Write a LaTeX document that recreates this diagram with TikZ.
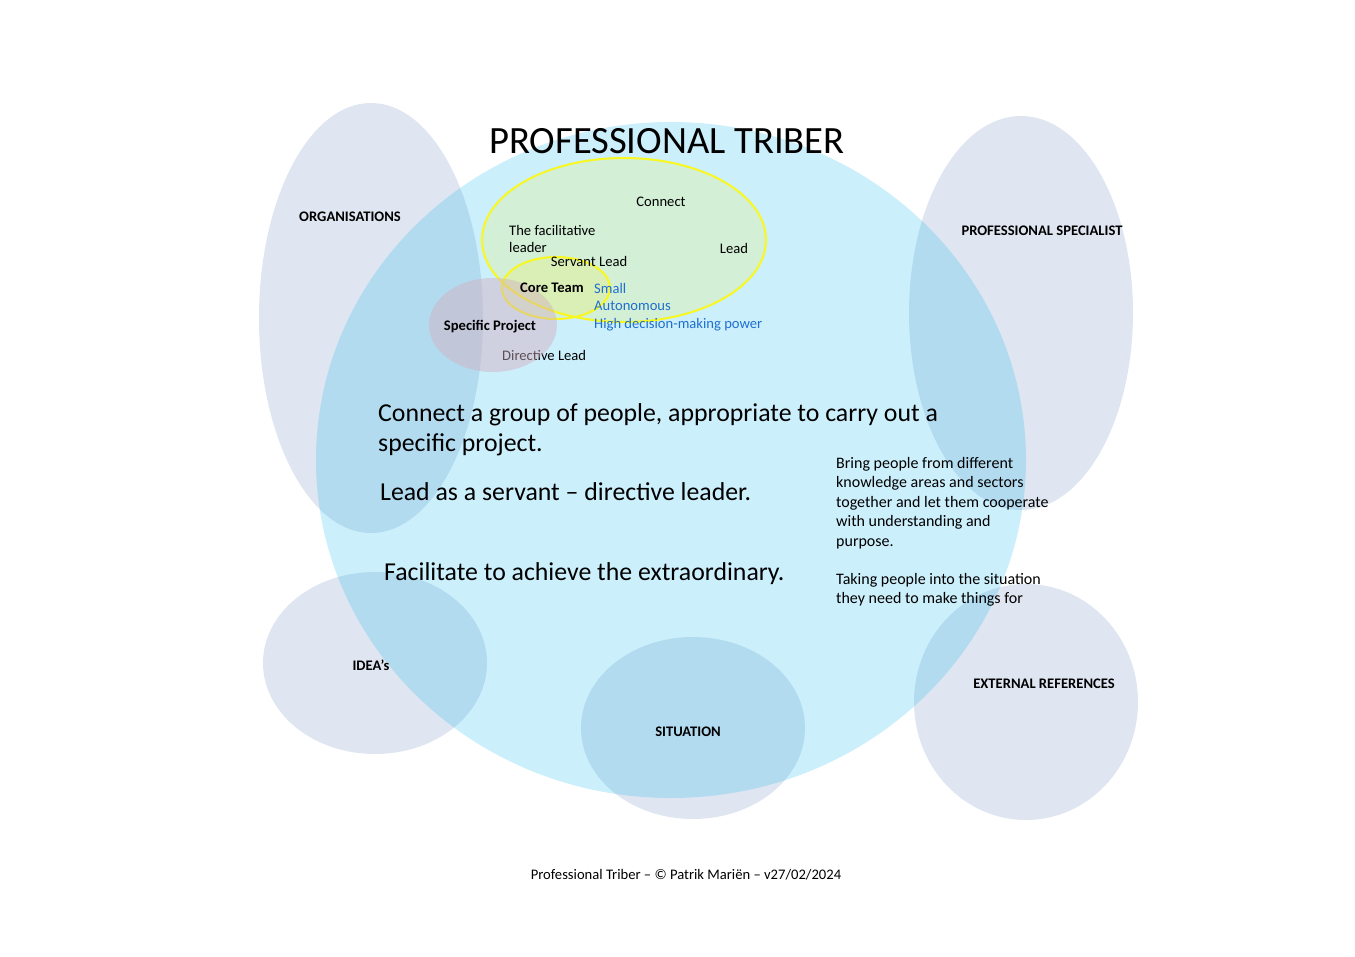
\documentclass[tikz,border=0pt]{standalone}
\usepackage{fontspec}
\setmainfont{Carlito}
\definecolor{greyell}{HTML}{DFE6F1}
\definecolor{cyanc}{HTML}{00B0F0}
\definecolor{bluetxt}{HTML}{1F6FCF}
\definecolor{projc}{HTML}{D4AEBE}
\definecolor{yellowline}{HTML}{F8F820}
\begin{document}
\begin{tikzpicture}[x=1pt,y=-1pt,
  outerell/.style={fill=greyell},
  bigcircle/.style={fill=cyanc,fill opacity=0.2},
  yellowell/.style={draw=yellowline,line width=2pt,fill=yellow,fill opacity=0.15,draw opacity=1},
  projell/.style={fill=projc,fill opacity=0.45},
  lbl/.style={font=\fontsize{14.6}{17}\selectfont\bfseries,inner sep=0pt},
  smalltxt/.style={font=\fontsize{14.6}{17}\selectfont,inner sep=0pt},
  bluetext/.style={font=\fontsize{14.6}{17.5}\selectfont,inner sep=0pt,text=bluetxt},
  bigtxt/.style={font=\fontsize{25.8}{30}\selectfont,inner sep=0pt},
  sidetxt/.style={font=\fontsize{16}{19.5}\selectfont,inner sep=0pt},
]
\useasboundingbox (0,0) rectangle (1355,956);
\fill[white] (0,0) rectangle (1355,956);

% outer grey-blue ellipses
\fill[outerell] (371,318) ellipse [x radius=112pt, y radius=215pt];
\fill[outerell] (1021,313) ellipse [x radius=112pt, y radius=197pt];
\fill[outerell] (375,663) ellipse [x radius=112pt, y radius=91pt];
\fill[outerell] (693,728) ellipse [x radius=112pt, y radius=91pt];
\fill[outerell] (1026,702) ellipse [x radius=112pt, y radius=118pt];

% big light-blue circle
\fill[bigcircle] (671,460) ellipse [x radius=355pt, y radius=338pt];

% yellow ellipses
\path[yellowell] (624,240) ellipse [x radius=142pt, y radius=82pt];
\path[yellowell] (556,288) ellipse [x radius=54pt, y radius=31pt];

% text under the project circle
\node[smalltxt,anchor=base west] (directive) at (502,360.5) {Directive Lead};

% specific project circle
\fill[projell] (493,325) ellipse [x radius=64pt, y radius=47pt];

% title
\node[inner sep=0pt,font=\fontsize{38.6}{44}\selectfont] (title) at (667,141) {PROFESSIONAL TRIBER};

% outer labels
\node[lbl] (org) at (350,217) {ORGANISATIONS};
\node[lbl] (spec) at (1042,231) {PROFESSIONAL SPECIALIST};
\node[lbl] (ideas) at (371,665) {IDEA’s};
\node[lbl] (sit) at (688,732) {SITUATION};
\node[lbl] (ext) at (1044,684) {EXTERNAL REFERENCES};

% inner labels
\node[smalltxt,anchor=base] (connect) at (661,206) {Connect};
\node[smalltxt,anchor=base west] (facil) at (509,235) {The facilitative};
\node[smalltxt,anchor=base west] (facil2) at (509,252) {leader};
\node[smalltxt,anchor=base] (lead) at (734,253) {Lead};
\node[smalltxt,anchor=base] (servant) at (589,266) {Servant Lead};
\node[lbl,anchor=base] (core) at (552,292) {Core Team};
\node[lbl,anchor=base] (proj) at (490,330) {Specific Project};
\node[bluetext,anchor=base west] (small1) at (594,293) {Small};
\node[bluetext,anchor=base west] (small2) at (594,310.5) {Autonomous};
\node[bluetext,anchor=base west] (small3) at (594,328) {High decision-making power};

% main statements
\node[bigtxt,anchor=base west] (s1a) at (378,421) {Connect a group of people, appropriate to carry out a};
\node[bigtxt,anchor=base west] (s1b) at (378,451) {specific project.};
\node[bigtxt,anchor=base west] (s2) at (380,500.5) {Lead as a servant – directive leader.};
\node[bigtxt,anchor=base west] (s3) at (384,580.5) {Facilitate to achieve the extraordinary.};

% side paragraph
\node[sidetxt,anchor=base west] (p1) at (836,468) {Bring people from different};
\node[sidetxt,anchor=base west] (p2) at (836,487.5) {knowledge areas and sectors};
\node[sidetxt,anchor=base west] (p3) at (836,507) {together and let them cooperate};
\node[sidetxt,anchor=base west] (p4) at (836,526.5) {with understanding and};
\node[sidetxt,anchor=base west] (p5) at (836,546) {purpose.};
\node[sidetxt,anchor=base west] (p6) at (836,584) {Taking people into the situation};
\node[sidetxt,anchor=base west] (p7) at (836,603.5) {they need to make things for};

% footer
\node[smalltxt,anchor=base] (footer) at (686,879) {Professional Triber – © Patrik Mariën – v27/02/2024};
\end{tikzpicture}
\end{document}
